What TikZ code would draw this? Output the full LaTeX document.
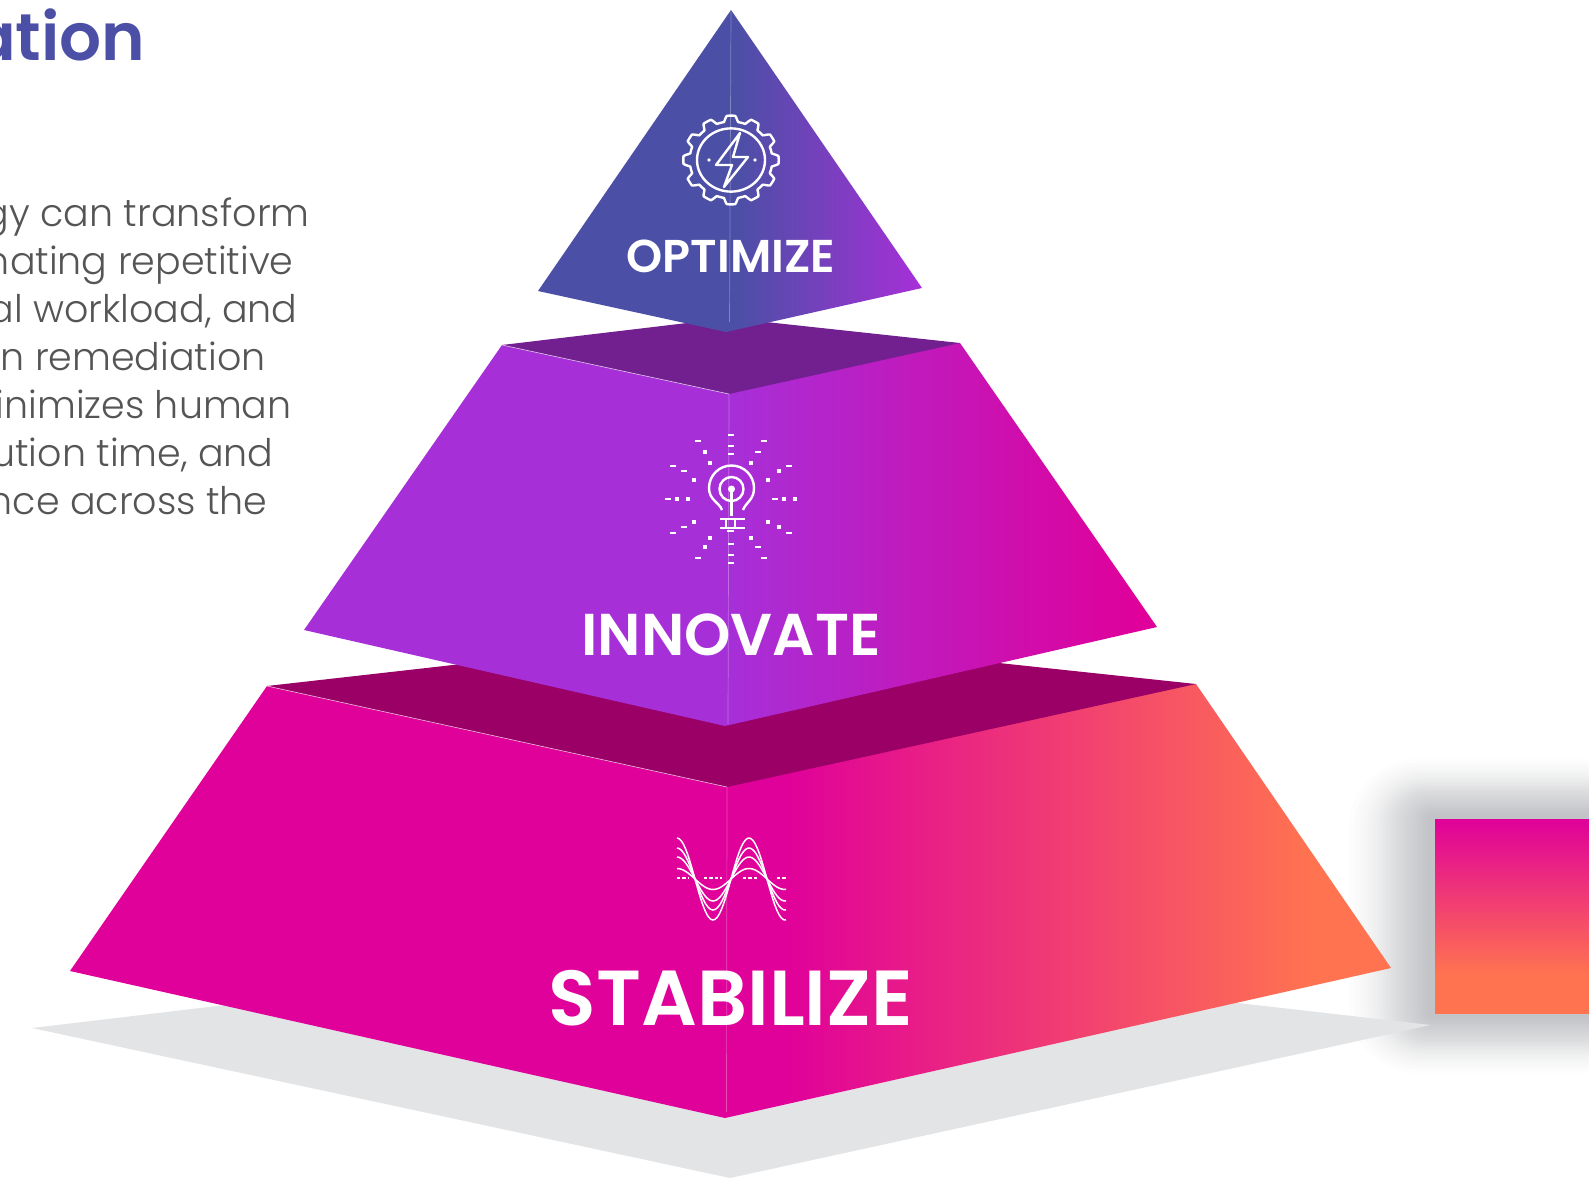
\documentclass[tikz,border=0pt]{standalone}
\usepackage{fontspec}
\setmainfont{Open Sans}
\newfontfamily\bodyfont{Poppins}[UprightFont=* Light]
\newfontfamily\titlefont{Poppins}[UprightFont=* SemiBold]
\usetikzlibrary{positioning, calc}
\definecolor{indigotop}{RGB}{76,79,166}
\definecolor{purplemid}{RGB}{167,47,216}
\definecolor{magentabase}{RGB}{224,0,154}
\definecolor{coralend}{RGB}{255,115,80}
\definecolor{purpleface}{RGB}{114,32,144}
\definecolor{magentaface}{RGB}{154,0,101}
\definecolor{floorgray}{RGB}{227,228,230}
\definecolor{bodygray}{RGB}{85,85,87}
\definecolor{glowgray}{RGB}{50,55,65}
\pgfdeclarehorizontalshading{topshade}{100bp}{color(0bp)=(indigotop); color(51bp)=(indigotop); color(75bp)=(purplemid); color(100bp)=(purplemid)}
\pgfdeclarehorizontalshading{midshade}{100bp}{color(0bp)=(purplemid); color(50bp)=(purplemid); color(74bp)=(magentabase); color(100bp)=(magentabase)}
\pgfdeclarehorizontalshading{baseshade}{100bp}{color(0bp)=(magentabase); color(52bp)=(magentabase); color(72bp)=(coralend); color(100bp)=(coralend)}
\pgfdeclareverticalshading{squareshade}{100bp}{color(0bp)=(coralend); color(35bp)=(coralend); color(75bp)=(magentabase); color(100bp)=(magentabase)}
\tikzset{
    bodyline/.style={anchor=base east, inner sep=0pt, text=bodygray, font=\bodyfont\fontsize{19}{24}\selectfont},
    tierlabel/.style={anchor=base, inner sep=0pt, text=white, font=\titlefont\fontsize{#1}{#1}\selectfont},
    iconline/.style={white, line width=1.2pt, line join=round},
    waveline/.style={white, line width=0.75pt},
    seam/.style={white, opacity=0.3, line width=0.35pt},
    edge/.style={white, opacity=0.75, line width=0.3pt},
}

\begin{document}
\begin{tikzpicture}[x=0.5pt, y=-0.5pt]
\useasboundingbox (0,0) rectangle (1589,1178);
\clip (0,0) rectangle (1589,1178);

% Text on the left
\node[anchor=base east, inner sep=0pt, text=indigotop, font=\titlefont\fontsize{33}{40}\selectfont] (title) at (146,60) {ation};
\node[bodyline] (line1) at (310,226) {gy can transform};
\node[bodyline] (line2) at (294,274) {nating repetitive};
\node[bodyline] (line3) at (298,322) {al workload, and};
\node[bodyline] (line4) at (266,370) {in remediation};
\node[bodyline] (line5) at (292,418) {inimizes human};
\node[bodyline] (line6) at (274,466) {ution time, and};
\node[bodyline] (line7) at (268,514) {nce across the};

% Square on the right, soft shadow first
\foreach \k in {1,...,30} {
    \pgfmathsetmacro{\r}{6+62*(\k/30)+18*(\k/30)^6}
    \fill[glowgray, opacity=0.012, rounded corners=\r*0.4pt] (1435-\r,819-0.7*\r) rectangle (1700,1013+0.7*\r);
}
\shade[shading=squareshade] (1435,819) rectangle (1589,1013);

% Floor shadow
\fill[floorgray] (32,1028) -- (730,945) -- (1431,1025) -- (730,1178) -- cycle;

% Base tier
\shade[shading=baseshade] (267,686) -- (1196,684) -- (1391,968) -- (725,1118) -- (70,971) -- cycle;
\fill[magentaface] (267,686) -- (727,634) -- (1196,684) -- (727,787) -- cycle;
\draw[edge] (267,686) -- (727,787);
\draw[seam] (727,787) -- (726.5,1112);

% Middle tier
\shade[shading=midshade] (502,345) -- (960,343) -- (1157,627) -- (725,726) -- (304,630) -- cycle;
\fill[purpleface] (502,345) -- (729,318) -- (960,343) -- (729,394) -- cycle;
\draw[edge] (502,345) -- (729,394);
\draw[seam] (729,394) -- (728,724);

% Top tier
\shade[shading=topshade] (731,10) -- (922,288) -- (726,332) -- (538,291) -- cycle;
\draw[seam] (731,10) -- (729.5,322);

% Gear icon
\begin{scope}[shift={(731,160)}, yscale=0.93]
\draw[iconline] plot[domain=0:360, samples=289] (\x:{44.5+3.2*max(-1,min(1,2.2*cos(12*\x)))}) -- cycle;
\draw[iconline] (0,0) circle (34);
\end{scope}
\draw[iconline] (740,133) -- (716,165) -- (732,165) -- (724,187) -- (748,157) -- (733,157) -- cycle;
\fill[white] (709,160) circle (1.8) (755,160) circle (1.8);

% Bulb icon
\draw[iconline] (722,510) .. controls (719,502) and (709,500) .. (709,488) arc (180:360:22.5) .. controls (754,500) and (746,502) .. (743,510);
\draw[iconline] (731.5,489) circle (12);
\fill[white] (731.5,489) circle (3.5);
\draw[iconline] (731.5,489) -- (731.5,516);
\draw[iconline] (720,519) -- (745,519) (720,528) -- (745,528) (726,519) -- (726,528) (735,519) -- (735,528);
\draw[iconline] (727,531) -- (734,531);
\foreach \px/\py in {731/435,731/446,731/454,731/544,731/555,731/563,668/499,775/499,698/441,673/466,684/471,789/466,764/441,758/452,673/533,684/527,698/558,789/533,764/558,758/547}
    \draw[white, line width=1.25pt] (\px-3,\py) -- (\px+3,\py);
\foreach \px/\py in {677/499,688/499,784/499,795/499,705/452,710/463,694/480,779/471,768/480,751/463,694/522,705/547,710/538,779/527,768/522,751/538}
    \fill[white] (\px-1.6,\py-1.6) rectangle (\px+1.6,\py+1.6);

% Wave icon
\foreach \amp in {41,31,22,10.5}
    \draw[waveline] plot[smooth, domain=677:786, samples=50] (\x,{879-\amp*sin(5*(\x-731))});
\draw[waveline, dash pattern=on 1.7pt off 1pt] (677,878) -- (688,878) (704,878) -- (722,878) (743,878) -- (758,878) (777,878) -- (787,878);

% Labels
\node[tierlabel=23] (optimize) at (731,272) {OPTIMIZE};
\node[tierlabel=29.5] (innovate) at (731,655) {INNOVATE};
\node[tierlabel=39] (stabilize) at (731,1025) {STABILIZE};

\end{tikzpicture}
\end{document}
